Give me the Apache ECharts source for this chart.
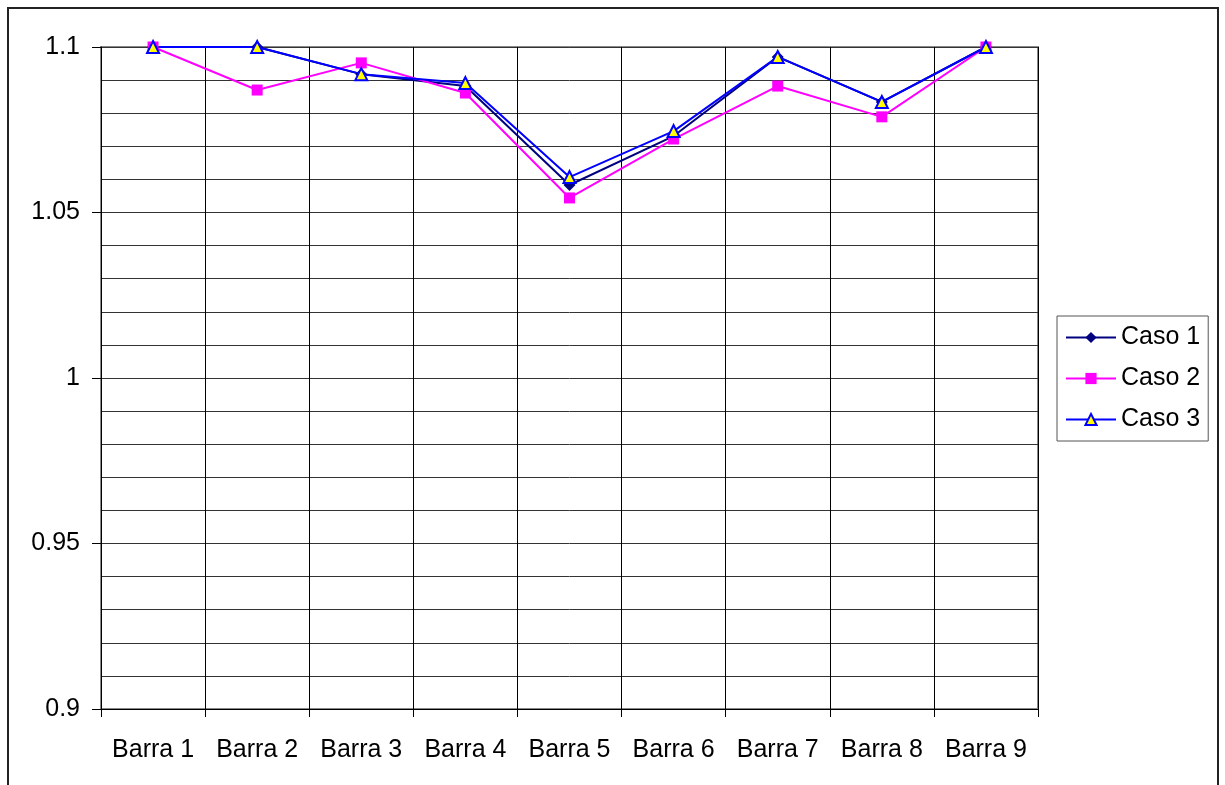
<!DOCTYPE html>
<html>
<head>
<meta charset="utf-8">
<script src="https://cdn.jsdelivr.net/npm/echarts@6/dist/echarts.min.js"></script>
<style>
	html, body { margin: 0; padding: 0; background: #fff; }
</style>
</head>
<body>
<div id="main" style="width:1225px;height:785px;"></div>
<script>
	var categories = ['Barra 1', 'Barra 2', 'Barra 3', 'Barra 4', 'Barra 5', 'Barra 6', 'Barra 7', 'Barra 8', 'Barra 9'];
	var caso1 = [1.1, 1.1, 1.0918, 1.0882, 1.0583, 1.0731, 1.097, 1.0834, 1.1];
	var caso2 = [1.1, 1.087, 1.0952, 1.0861, 1.0544, 1.0722, 1.0882, 1.0789, 1.1];
	var caso3 = [1.1, 1.1, 1.0918, 1.0891, 1.0607, 1.0746, 1.097, 1.0834, 1.1];

	var chart = echarts.init(document.getElementById('main'), null, { renderer: 'canvas' });

	var font = 'Liberation Sans, Arial, sans-serif';

	var option = {
		animation: false,
		backgroundColor: '#fff',
		textStyle: { fontFamily: font, color: '#000' },
		graphic: [{
			type: 'rect',
			shape: { x: 8, y: 8, width: 1210, height: 800 },
			style: { fill: 'none', stroke: '#222', lineWidth: 2 },
			silent: true
		}],
		grid: {
			left: 101,
			right: 187,
			top: 47,
			bottom: 76,
			show: true,
			borderColor: '#888',
			borderWidth: 2
		},
		legend: {
			orient: 'vertical',
			left: 1057,
			top: 316,
			padding: [9, 8, 9, 8],
			borderColor: '#555',
			borderWidth: 1,
			itemWidth: 50,
			itemHeight: 14,
			itemGap: 16,
			textStyle: { fontFamily: font, fontSize: 25, color: '#000' },
			data: ['Caso 1', 'Caso 2', 'Caso 3']
		},
		xAxis: {
			type: 'category',
			data: categories,
			boundaryGap: true,
			axisLine: { lineStyle: { color: '#000', width: 1 } },
			axisTick: { show: true, interval: 0, length: 8, lineStyle: { color: '#000' } },
			axisLabel: { interval: 0, fontFamily: font, fontSize: 25, color: '#000', margin: 29 },
			splitLine: { show: true, interval: 0, lineStyle: { color: '#000', width: 1 } }
		},
		yAxis: [{
			type: 'value',
			min: 0.9,
			max: 1.1,
			interval: 0.05,
			axisLine: { show: true, lineStyle: { color: '#000', width: 1 } },
			axisTick: { show: true, length: 9, lineStyle: { color: '#000' } },
			axisLabel: { fontFamily: font, fontSize: 25, color: '#000', margin: 21 },
			splitLine: { show: false }
		}, {
			type: 'value',
			min: 0.9,
			max: 1.1,
			interval: 0.01,
			position: 'left',
			axisLine: { show: false },
			axisTick: { show: false },
			axisLabel: { show: false },
			splitLine: { show: true, lineStyle: { color: '#333', width: 1 } }
		}],
		series: [{
			name: 'Caso 1',
			type: 'line',
			data: caso1,
			symbol: 'diamond',
			symbolSize: 12,
			color: '#000080',
			lineStyle: { color: '#000080', width: 2 },
			itemStyle: { color: '#000080' }
		}, {
			name: 'Caso 2',
			type: 'line',
			data: caso2,
			symbol: 'rect',
			symbolSize: 11,
			color: '#FF00FF',
			lineStyle: { color: '#FF00FF', width: 2 },
			itemStyle: { color: '#FF00FF' }
		}, {
			name: 'Caso 3',
			type: 'line',
			data: caso3,
			symbol: 'triangle',
			symbolSize: 12,
			color: '#0000FF',
			lineStyle: { color: '#0000FF', width: 2 },
			itemStyle: { color: '#FFFF00', borderColor: '#0000FF', borderWidth: 2 }
		}]
	};

	chart.setOption(option);
</script>
</body>
</html>
